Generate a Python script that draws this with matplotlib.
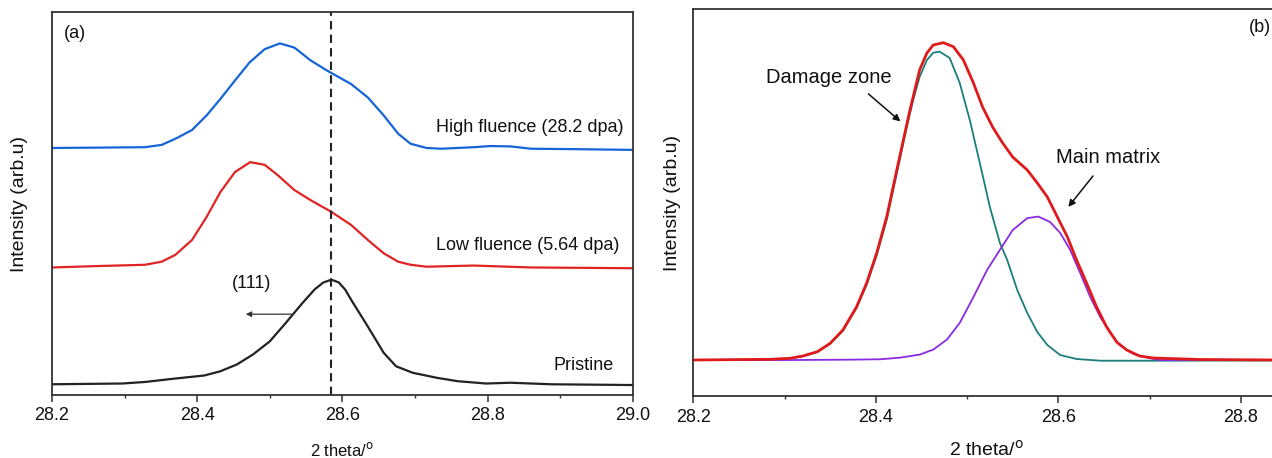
import matplotlib
matplotlib.use("Agg")
import matplotlib.pyplot as plt
from matplotlib.ticker import MultipleLocator, FormatStrFormatter

plt.rcParams['font.family'] = ['Liberation Sans', 'DejaVu Sans']

# ---------------- Panel (a) data ----------------
x_high = [28.200, 28.269, 28.328, 28.351, 28.370, 28.393, 28.413, 28.432, 28.452, 28.472,
          28.493, 28.514, 28.534, 28.556, 28.579, 28.612, 28.635, 28.657, 28.677, 28.694,
          28.716, 28.736, 28.781, 28.804, 28.832, 28.860, 28.916, 29.000]
y_high = [64.5, 64.6, 64.7, 65.3, 66.9, 69.2, 73.0, 77.3, 82.1, 86.8,
          90.3, 91.8, 90.7, 87.4, 84.7, 81.2, 77.7, 73.0, 68.2, 65.6,
          64.5, 64.3, 64.7, 65.0, 64.9, 64.3, 64.2, 64.0]

x_low = [28.200, 28.269, 28.328, 28.351, 28.370, 28.393, 28.413, 28.432, 28.452, 28.473,
         28.493, 28.511, 28.534, 28.556, 28.585, 28.612, 28.635, 28.657, 28.677, 28.694,
         28.716, 28.781, 28.860, 29.000]
y_low = [33.3, 33.7, 34.0, 34.8, 36.6, 40.5, 46.5, 53.0, 58.2, 60.8,
         60.1, 57.4, 53.5, 50.9, 47.8, 44.4, 40.5, 37.0, 34.8, 34.0,
         33.5, 33.8, 33.3, 33.1]

x_pristine = [28.200, 28.297, 28.328, 28.365, 28.410, 28.432, 28.455, 28.477, 28.500, 28.522,
              28.545, 28.562, 28.574, 28.585, 28.595, 28.604, 28.612, 28.635, 28.657, 28.674,
              28.697, 28.730, 28.759, 28.798, 28.832, 28.888, 29.000]
y_pristine = [2.8, 3.0, 3.4, 4.2, 5.1, 6.2, 8.0, 10.6, 14.0, 18.8,
              24.0, 27.6, 29.4, 30.1, 29.4, 27.5, 24.9, 17.9, 11.0, 7.5,
              5.8, 4.5, 3.6, 3.0, 3.2, 2.8, 2.6]

peak_111 = 28.585
labels_a = ["High fluence (28.2 dpa)", "Low fluence (5.64 dpa)", "Pristine"]

# ---------------- Panel (b) data ----------------
x_fit = [28.200, 28.284, 28.306, 28.320, 28.336, 28.350, 28.364, 28.379, 28.390, 28.401,
         28.412, 28.423, 28.430, 28.437, 28.448, 28.456, 28.463, 28.474, 28.485, 28.496,
         28.507, 28.517, 28.528, 28.539, 28.550, 28.566, 28.577, 28.588, 28.599, 28.610,
         28.620, 28.631, 28.642, 28.653, 28.664, 28.675, 28.689, 28.704, 28.755, 28.840]
y_fit = [9.31, 9.49, 9.75, 10.34, 11.46, 13.63, 17.07, 23.09, 29.22, 36.98,
         46.37, 58.44, 66.0, 73.5, 84.30, 88.70, 90.77, 91.37, 90.33, 86.89,
         80.94, 74.74, 69.56, 65.43, 61.81, 58.44, 55.08, 51.46, 46.29, 41.12,
         35.17, 29.22, 23.02, 17.84, 13.96, 11.90, 10.34, 9.83, 9.44, 9.31]

x_damage = [28.200, 28.284, 28.306, 28.320, 28.336, 28.350, 28.364, 28.379, 28.390, 28.401,
            28.412, 28.423, 28.434, 28.441, 28.448, 28.456, 28.463, 28.470, 28.481, 28.492,
            28.503, 28.514, 28.525, 28.536, 28.544, 28.555, 28.566, 28.577, 28.588, 28.602,
            28.620, 28.646, 28.711, 28.840]
y_damage = [9.31, 9.40, 9.70, 10.30, 11.40, 13.50, 16.90, 22.80, 28.80, 36.40,
            45.60, 57.50, 69.56, 76.55, 82.49, 86.89, 88.78, 89.04, 87.41, 80.94,
            71.37, 60.25, 48.88, 39.57, 35.17, 27.41, 21.46, 16.55, 13.19, 10.60,
            9.57, 9.13, 9.13, 9.18]

x_matrix = [28.200, 28.306, 28.372, 28.405, 28.426, 28.448, 28.463, 28.478, 28.492, 28.507,
            28.522, 28.536, 28.550, 28.566, 28.578, 28.591, 28.602, 28.613, 28.624, 28.635,
            28.646, 28.657, 28.667, 28.682, 28.700, 28.711, 28.840]
y_matrix = [9.31, 9.30, 9.40, 9.50, 9.90, 10.7, 12.0, 14.6, 18.9, 25.6,
            32.6, 37.8, 42.9, 46.0, 46.4, 45.0, 42.2, 37.8, 31.8, 25.6,
            20.4, 16.3, 13.2, 10.9, 9.8, 9.3, 9.3]

# ---------------- Figure ----------------
W, H = 1272, 458
fig = plt.figure(figsize=(W / 100, H / 100), dpi=100)

ax1 = fig.add_axes([52 / W, (H - 395) / H, (632.7 - 52) / W, (395 - 12) / H])
ax2 = fig.add_axes([693.3 / W, (H - 396) / H, (1279 - 693.3) / W, (396 - 9.3) / H])

spine_col = '#333333'
for ax in (ax1, ax2):
    for s in ax.spines.values():
        s.set_linewidth(1.3)
        s.set_color(spine_col)
    ax.set_yticks([])
    ax.xaxis.set_major_locator(MultipleLocator(0.2))
    ax.xaxis.set_minor_locator(MultipleLocator(0.1))
    ax.xaxis.set_major_formatter(FormatStrFormatter('%.1f'))
    ax.tick_params(axis='x', which='major', direction='out', length=5, width=1.1,
                   labelsize=13, pad=4, colors=spine_col, labelcolor='#111111')
    ax.tick_params(axis='x', which='minor', direction='out', length=2.2, width=1.0,
                   colors=spine_col)
    ax.set_ylim(0, 100)

# Panel (a)
ax1.set_xlim(28.2, 29.0)
ax1.plot(x_high, y_high, color='#1565d8', lw=1.6)
ax1.plot(x_low, y_low, color='#e02424', lw=1.6)
ax1.plot(x_pristine, y_pristine, color='#222222', lw=1.6)
ax1.axvline(peak_111, color='#222222', lw=1.5, ls=(0, (4, 2.5)))
ax1.text(28.988, 69.9, labels_a[0], ha='right', va='center', fontsize=13, color='#111111')
ax1.text(28.981, 39.0, labels_a[1], ha='right', va='center', fontsize=13, color='#111111')
ax1.text(28.974, 7.8, labels_a[2], ha='right', va='center', fontsize=13, color='#111111')
ax1.text(28.475, 29.2, "(111)", ha='center', va='center', fontsize=13, color='#111111')
ax1.annotate("", xy=(28.467, 21.1), xytext=(28.531, 21.1),
             arrowprops=dict(arrowstyle='-|>', color='#333333', lw=0.9,
                             mutation_scale=8, shrinkA=0, shrinkB=0))
ax1.text(28.216, 94.5, "(a)", ha='left', va='center', fontsize=13, color='#111111')
ax1.set_xlabel("2 theta/$^{\\mathrm{o}}$", fontsize=12, labelpad=12, color='#111111')
ax1.set_ylabel("Intensity (arb.u)", fontsize=14, labelpad=17, color='#111111')

# Panel (b)
ax2.set_xlim(28.2, 28.2 + (1279 - 693.3) * 0.2 / 182.5)
ax2.plot(x_damage, y_damage, color='#1a7f7a', lw=1.3)
ax2.plot(x_matrix, y_matrix, color='#8a2be2', lw=1.3)
ax2.plot(x_fit, y_fit, color='#e01a1a', lw=2.0)
ax2.text(28.349, 82.4, "Damage zone", ha='center', va='center', fontsize=14.5, color='#111111')
ax2.annotate("", xy=(28.427, 71.0), xytext=(28.392, 78.1),
             arrowprops=dict(arrowstyle='-|>', color='#111111', lw=1.1,
                             mutation_scale=10, shrinkA=0, shrinkB=0))
ax2.text(28.655, 61.7, "Main matrix", ha='center', va='center', fontsize=14.5, color='#111111')
ax2.annotate("", xy=(28.611, 48.9), xytext=(28.638, 56.9),
             arrowprops=dict(arrowstyle='-|>', color='#111111', lw=1.1,
                             mutation_scale=10, shrinkA=0, shrinkB=0))
ax2.text(28.809, 95.4, "(b)", ha='left', va='center', fontsize=13, color='#111111')
ax2.set_xlabel("2 theta/$^{\\mathrm{o}}$", fontsize=14, labelpad=10, color='#111111')
ax2.set_ylabel("Intensity (arb.u)", fontsize=14, labelpad=9, color='#111111')

fig.savefig("out.png", dpi=100)
